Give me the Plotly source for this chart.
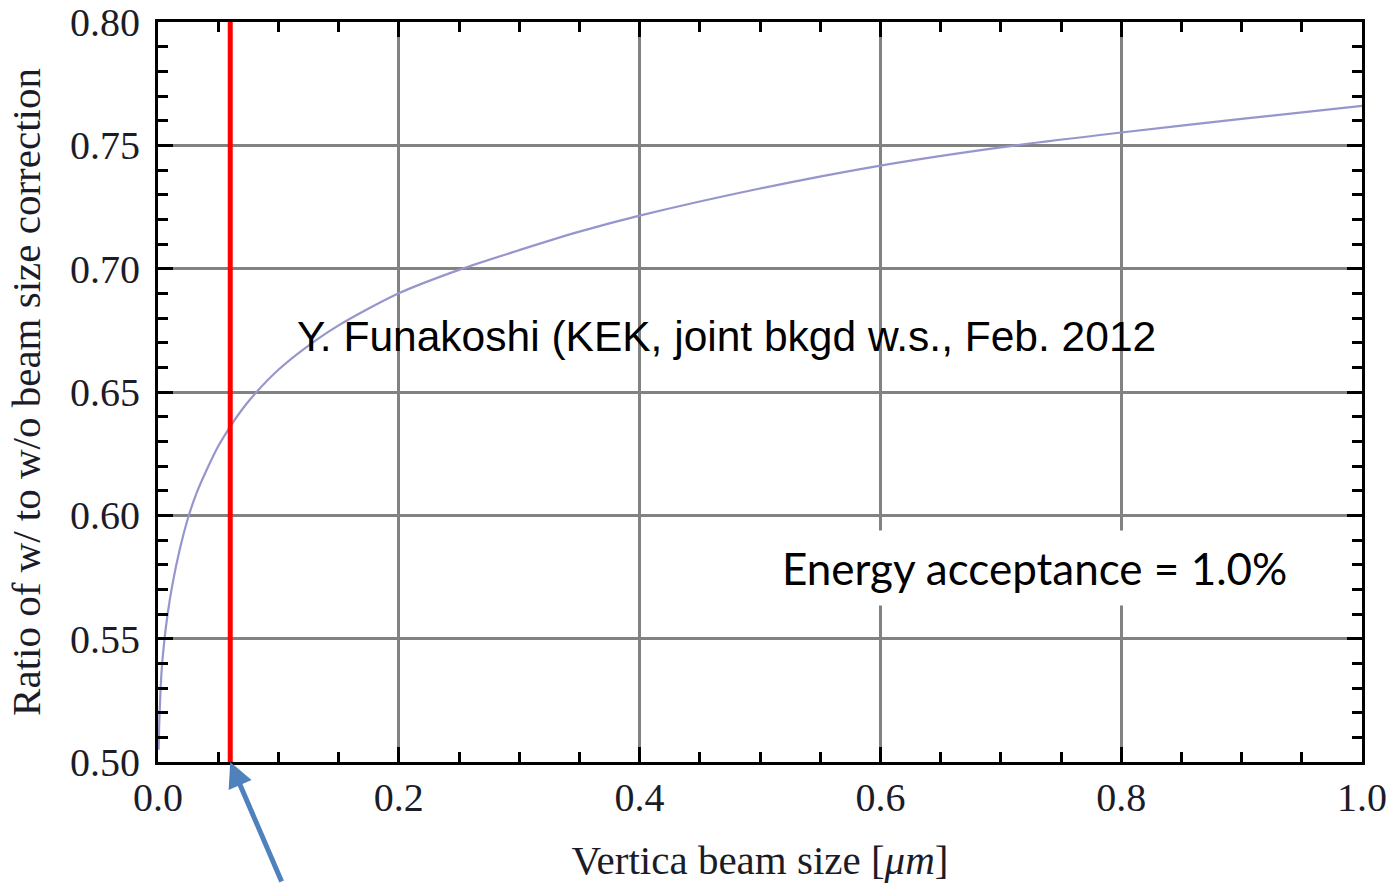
import plotly.graph_objects as go

# Ratio of Touschek lifetime with / without vertical beam-size correction
beam_size_um = [0.0005, 0.001, 0.002, 0.003, 0.005, 0.008, 0.012, 0.018, 0.025, 0.032,
                0.04, 0.05, 0.06, 0.07, 0.08, 0.1, 0.12, 0.15, 0.2, 0.25, 0.3, 0.35,
                0.4, 0.5, 0.6, 0.7, 0.8, 0.9, 1.0]
ratio = [0.505, 0.515, 0.528, 0.537, 0.548, 0.560, 0.572, 0.586, 0.599, 0.609,
         0.618, 0.628, 0.636, 0.643, 0.649, 0.659, 0.667, 0.677, 0.690, 0.6995,
         0.7075, 0.7150, 0.7215, 0.7325, 0.7418, 0.7492, 0.7552, 0.7607, 0.766]

# design vertical beam size marker
design_size_um = 0.06
y_range = [0.50, 0.80]

x_ticks = [0.0, 0.2, 0.4, 0.6, 0.8, 1.0]
x_ticklabels = ["0.0", "0.2", "0.4", "0.6", "0.8", "1.0"]
y_ticks = [0.50, 0.55, 0.60, 0.65, 0.70, 0.75, 0.80]
y_ticklabels = ["0.50", "0.55", "0.60", "0.65", "0.70", "0.75", "0.80"]

serif = "Liberation Serif"
label_color = "#1c1c28"

fig = go.Figure()

fig.add_trace(go.Scatter(
    x=beam_size_um, y=ratio, mode="lines",
    line=dict(color="rgb(150,150,205)", width=2.2, shape="spline", smoothing=0.8),
    showlegend=False, hoverinfo="skip",
))

fig.add_trace(go.Scatter(
    x=[design_size_um, design_size_um], y=y_range, mode="lines",
    line=dict(color="#ff0000", width=5),
    showlegend=False, hoverinfo="skip",
))

axis_common = dict(
    showline=True, linecolor="black", linewidth=3, mirror="allticks",
    ticks="inside", ticklen=15, tickwidth=2.5, tickcolor="black",
    showgrid=True, gridcolor="rgb(130,130,130)", gridwidth=2.5,
    zeroline=False, automargin=False,
    tickfont=dict(family=serif, size=40, color=label_color),
)

fig.update_xaxes(
    range=[0, 1.0], tickvals=x_ticks, ticktext=x_ticklabels,
    minor=dict(dtick=0.05, tick0=0, ticks="inside", ticklen=10, tickwidth=2.5,
               tickcolor="black", showgrid=False),
    title=dict(text="Vertica beam size [<i>μm</i>]",
               font=dict(family=serif, size=41, color=label_color), standoff=28),
    ticklabelstandoff=-2,
    **axis_common,
)
fig.update_yaxes(
    range=y_range, tickvals=y_ticks, ticktext=y_ticklabels,
    minor=dict(dtick=0.01, tick0=0.5, ticks="inside", ticklen=10, tickwidth=2.5,
               tickcolor="black", showgrid=False),
    title=dict(text="Ratio of w/ to w/o beam size correction",
               font=dict(family=serif, size=41, color=label_color), standoff=17),
    ticklabelstandoff=7,
    **axis_common,
)

fig.add_annotation(
    x=0.472, y=0.6727, xref="x", yref="y",
    text="Y. Funakoshi (KEK, joint bkgd w.s., Feb. 2012",
    showarrow=False, font=dict(family="Liberation Sans", size=42.5, color="black"),
)

fig.add_annotation(
    x=0.7276, y=0.5786, xref="x", yref="y",
    text="Energy acceptance = 1.0%",
    showarrow=False, bgcolor="white", borderpad=11,
    font=dict(family="Lato", size=44, color="black"),
)

fig.add_annotation(
    x=design_size_um, y=y_range[0], xref="x", yref="y",
    ax=52, ay=135, axref="pixel", ayref="pixel",
    text="", showarrow=True, arrowhead=2, arrowsize=1, arrowwidth=5,
    arrowcolor="rgb(79,129,189)",
)

fig.update_layout(
    width=1389, height=883,
    margin=dict(l=158, r=27, t=22, b=121, autoexpand=False),
    paper_bgcolor="white", plot_bgcolor="white",
)

fig.write_html("out.html")
